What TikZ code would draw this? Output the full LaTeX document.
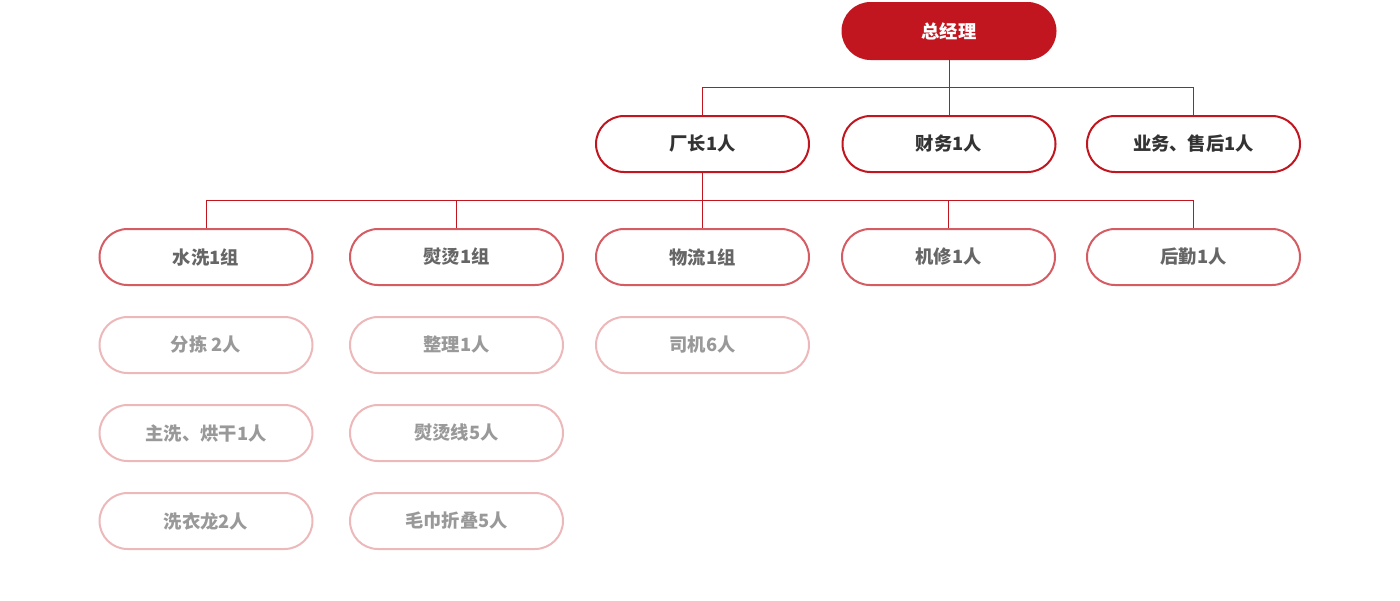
\documentclass[tikz,border=0pt]{standalone}
\usepackage{fontspec}
\newfontfamily\cjk{Noto Sans CJK SC}
\definecolor{mainred}{HTML}{C1161F}
\definecolor{midred}{HTML}{D65C63}
\definecolor{lightred}{HTML}{EDB8BA}
\definecolor{txtdark}{HTML}{333333}
\definecolor{txtmid}{HTML}{666666}
\definecolor{txtlight}{HTML}{999999}
\tikzset{
  pill/.style={rectangle, rounded corners=28pt, minimum width=213pt, minimum height=56pt,
    line width=2pt, inner sep=0pt, font=\cjk\bfseries\fontsize{18.3}{21}\selectfont},
  topbox/.style={pill, fill=mainred, draw=mainred, text=white},
  lvone/.style={pill, fill=white, draw=mainred, text=txtdark},
  lvtwo/.style={pill, fill=white, draw=midred, text=txtmid},
  lvthree/.style={pill, fill=white, draw=lightred, text=txtlight},
  link/.style={draw=mainred, line width=1pt}
}
\begin{document}
\begin{tikzpicture}[x=1pt,y=-1pt]
\useasboundingbox (0,0) rectangle (1400,600);
% top
\node[topbox] (gm) at (949,31) {总经理};
% level 1
\node[lvone] (cz) at (702.5,144) {厂长1人};
\node[lvone] (cw) at (949,144) {财务1人};
\node[lvone] (yw) at (1193.5,144) {业务、售后1人};
% level 2
\node[lvtwo] (sx) at (206,257) {水洗1组};
\node[lvtwo] (yt) at (456.5,257) {熨烫1组};
\node[lvtwo] (wl) at (702.5,257) {物流1组};
\node[lvtwo] (jx) at (948.5,257) {机修1人};
\node[lvtwo] (hq) at (1193.5,257) {后勤1人};
% level 3
\node[lvthree] (fj) at (206,345) {分拣 2人};
\node[lvthree] (zx) at (206,433) {主洗、烘干1人};
\node[lvthree] (xy) at (206,521) {洗衣龙2人};
\node[lvthree] (zl) at (456.5,345) {整理1人};
\node[lvthree] (ytx) at (456.5,433) {熨烫线5人};
\node[lvthree] (mj) at (456.5,521) {毛巾折叠5人};
\node[lvthree] (sj) at (702.5,345) {司机6人};
% connectors top -> level 1
\coordinate (j1) at (949,87.5);
\draw[link] (gm.south) -- (j1);
\draw[link] (cz.north) |- (j1) -| (yw.north);
\draw[link] (j1) -- (cw.north);
% connectors level 1 -> level 2
\coordinate (j2) at (702.5,200.5);
\draw[link] (cz.south) -- (j2);
\draw[link] (sx.north) |- (j2) -| (hq.north);
\draw[link] (yt.north) |- (j2);
\draw[link] (j2) -- (wl.north);
\draw[link] (jx.north) |- (j2);
\end{tikzpicture}
\end{document}
